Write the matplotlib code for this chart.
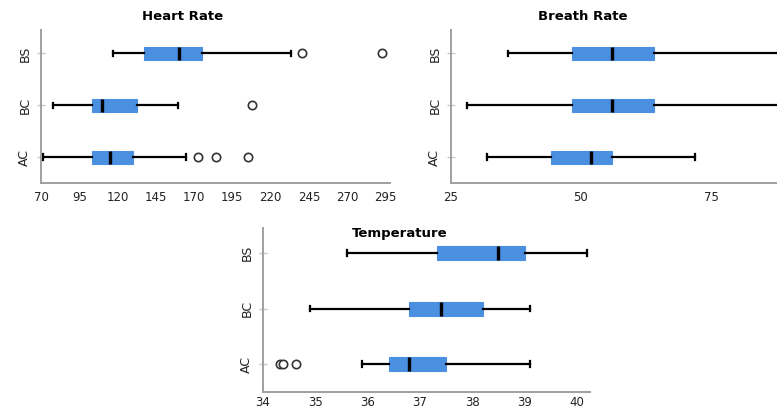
import matplotlib
matplotlib.use("Agg")
import matplotlib.pyplot as plt

groups = ["AC", "BC", "BS"]

# five-number summaries: low whisker, Q1, median, Q3, high whisker
hr_low = [71.5, 78, 117]
hr_q1 = [103, 103, 137]
hr_med = [115, 110, 160]
hr_q3 = [130, 133, 175]
hr_high = [165, 159.5, 233]
hr_fliers = [[172.5, 184, 205], [208], [240.5, 293]]

br_low = [32, 28, 36]
br_q1 = [44.2, 48.3, 48.3]
br_med = [52, 56, 56]
br_q3 = [56, 64, 64]
br_high = [72, 95, 95]
br_fliers = [[], [], []]

tp_low = [35.9, 34.9, 35.6]
tp_q1 = [36.4, 36.8, 37.33]
tp_med = [36.8, 37.4, 38.5]
tp_q3 = [37.5, 38.2, 39.0]
tp_high = [39.1, 39.1, 40.2]
tp_fliers = [[34.33, 34.38, 34.63], [], []]

BLUE = "#4a8fe0"
GREY = "#a0a0a0"


def make_stats(low, q1, med, q3, high, fliers):
    stats = []
    for i in range(len(groups)):
        stats.append({"label": groups[i], "whislo": low[i], "q1": q1[i], "med": med[i],
                      "q3": q3[i], "whishi": high[i], "fliers": fliers[i]})
    return stats


def draw_panel(ax, stats, xticks, xlim, xpad=6):
    ax.bxp(stats, positions=[1, 2, 3], widths=0.25, vert=False, patch_artist=True,
           boxprops=dict(facecolor=BLUE, edgecolor=BLUE, linewidth=0.8),
           medianprops=dict(color="black", linewidth=2.4),
           whiskerprops=dict(color="black", linewidth=1.6),
           capprops=dict(color="black", linewidth=1.6),
           capwidths=0.1,
           flierprops=dict(marker="o", markerfacecolor="white", markeredgecolor="#333333",
                           markersize=6, markeredgewidth=1.2))
    ax.set_xlim(*xlim)
    ax.set_ylim(0.5, 3.45)
    ax.set_xticks(xticks)
    ax.set_yticks([1, 2, 3])
    ax.set_yticklabels(groups, rotation=90, va="center", fontsize=9, color="#222222")
    ax.tick_params(axis="x", length=0, labelsize=8.5, colors="#222222", pad=xpad)
    ax.tick_params(axis="y", direction="inout", length=6, color="#c8c8c8", width=1, pad=4)
    for s in ["top", "right"]:
        ax.spines[s].set_visible(False)
    ax.spines["left"].set_color(GREY)
    ax.spines["bottom"].set_color(GREY)
    ax.spines["left"].set_linewidth(1.4)
    ax.spines["bottom"].set_linewidth(1.4)


fig = plt.figure(figsize=(7.77, 4.12), dpi=100)
W, H = 777.0, 412.0

ax1 = fig.add_axes([41 / W, 1 - 183 / H, (390 - 41) / W, (183 - 30) / H])
ax2 = fig.add_axes([451 / W, 1 - 183 / H, (777 - 451) / W, (183 - 30) / H])
ax3 = fig.add_axes([263 / W, 1 - 392 / H, (590 - 263) / W, (392 - 228) / H])

draw_panel(ax1, make_stats(hr_low, hr_q1, hr_med, hr_q3, hr_high, hr_fliers),
           [70, 95, 120, 145, 170, 195, 220, 245, 270, 295], (70, 298))
draw_panel(ax2, make_stats(br_low, br_q1, br_med, br_q3, br_high, br_fliers),
           [25, 50, 75], (25, 87.7))
draw_panel(ax3, make_stats(tp_low, tp_q1, tp_med, tp_q3, tp_high, tp_fliers),
           [34, 35, 36, 37, 38, 39, 40], (34, 40.25), xpad=3)

fig.text(183 / W, 1 - 17 / H, "Heart Rate", ha="center", va="center", fontsize=9.5, fontweight="bold")
fig.text(583 / W, 1 - 17 / H, "Breath Rate", ha="center", va="center", fontsize=9.5, fontweight="bold")
fig.text(400 / W, 1 - 233 / H, "Temperature", ha="center", va="center", fontsize=9.5, fontweight="bold")

fig.savefig("out.png", dpi=100)
